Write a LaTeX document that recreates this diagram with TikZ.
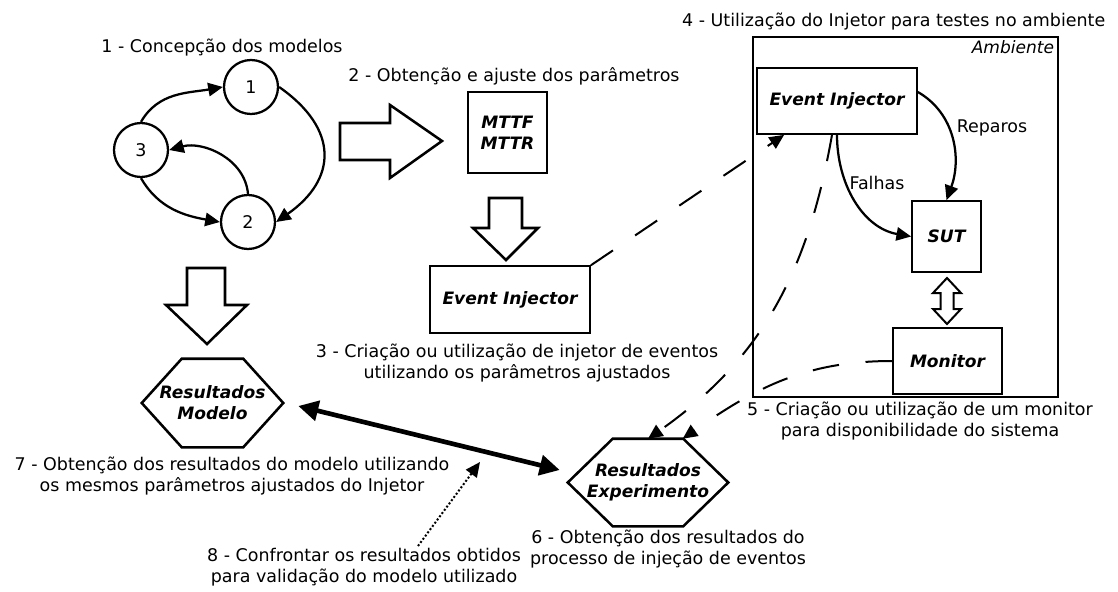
\documentclass[tikz,border=0pt]{standalone}
\usepackage{fontspec}
\setmainfont{DejaVu Sans}
\usetikzlibrary{positioning}
\usetikzlibrary{calc}
\usetikzlibrary{arrows.meta}

\begin{document}
\begin{tikzpicture} [
    x=0.75pt, y=0.75pt,                       % one unit is one pixel of the sketch
    font=\fontsize{13.1}{16}\selectfont,      % captions
    ]
% -------------------------------------------------
\tikzset{
  base/.style={align=center, font=\fontsize{12.8}{15.75}\selectfont\bfseries\itshape},
  rect/.style={base, draw, rectangle, line width=1.3pt},
  state/.style={draw, circle, line width=1.7pt, minimum size=40.5pt, inner sep=0pt},
  hexa/.style={draw, line width=1.9pt, line join=miter},
  block/.style={draw, line width=1.9pt, line join=miter, fill=white},
  line/.style={draw, line width=1.7pt, -{Triangle[length=11pt,width=10pt]}},
  dashline/.style={line, line width=1.5pt, dash pattern=on 20pt off 20pt},
  note/.style={align=center}
}

    \useasboundingbox (0,0) rectangle (1118,-592);

    % models
    \node [state] (m1) at (251,-87) {1};
    \node [state] (m3) at (141,-150) {3};
    \node [state] (m2) at (248,-222) {2};
    \node (cpt) at (222,-48) {1 - Concepção dos modelos};

    % parameters and injector
    \node [rect, minimum width=59pt, minimum height=61pt] (mttf) at (507.5,-132.5) {MTTF\\MTTR};
    \node (obt) at (514,-76) {2 - Obtenção e ajuste dos parâmetros};
    \node [rect, minimum width=120pt, minimum height=50pt] (inj) at (510,-299.5) {Event Injector};
    \node [note] (cri) at (517,-363) {3 - Criação ou utilização de injetor de eventos\\utilizando os parâmetros ajustados};

    % environment
    \node [draw, line width=1.3pt, minimum width=228.75pt, minimum height=270pt] (amb) at (905.5,-217) {};
    \node [anchor=north east, font=\fontsize{12.8}{15.75}\selectfont\itshape] (amt) at (amb.north east) {Ambiente};
    \node [anchor=east] (uti) at (1110,-22) {4 - Utilização do Injetor para testes no ambiente};
    \node [rect, minimum width=120pt, minimum height=49.5pt] (evi) at (837,-101) {Event Injector};
    \node [rect, minimum width=51.75pt, minimum height=53.25pt] (sut) at (946.5,-236.5) {SUT};
    \node [rect, minimum width=81.75pt, minimum height=49.5pt] (mon) at (947.5,-361) {Monitor};
    \node [note] (cmo) at (920,-421) {5 - Criação ou utilização de um monitor\\para disponibilidade do sistema};
    \node (flh) at (877,-183) {Falhas};
    \node (rep) at (992,-128) {Reparos};

    % results
    \node [base, minimum width=105.75pt, minimum height=66pt] (rmod) at (212.5,-403) {Resultados\\Modelo};
    \node [base, minimum width=120pt, minimum height=65.25pt] (rexp) at (648,-482.5) {Resultados\\Experimento};
    \node [note] (cres) at (668,-549) {6 - Obtenção dos resultados do\\processo de injeção de eventos};
    \node [note] (cmod) at (232,-476) {7 - Obtenção dos resultados do modelo utilizando\\os mesmos parâmetros ajustados do Injetor};
    \node [note] (cval) at (364,-567) {8 - Confrontar os resultados obtidos\\para validação do modelo utilizado};

    \draw [hexa] (rmod.west) -- ([xshift=30pt]rmod.north west) -- ([xshift=-30pt]rmod.north east)
        -- (rmod.east) -- ([xshift=-30pt]rmod.south east) -- ([xshift=30pt]rmod.south west) -- cycle;
    \draw [hexa] (rexp.west) -- ([xshift=33.75pt]rexp.north west) -- ([xshift=-33.75pt]rexp.north east)
        -- (rexp.east) -- ([xshift=-33.75pt]rexp.south east) -- ([xshift=33.75pt]rexp.south west) -- cycle;

    % block arrows
    \draw [block] (340,-123) -- (390,-123) -- (390,-105) -- (442,-141)
        -- (390,-178) -- (390,-160) -- (340,-160) -- cycle;                 % models to parameters
    \draw [block] (489,-198) -- (522,-198) -- (522,-228) -- (538,-228)
        -- (506,-260) -- (473,-228) -- (489,-228) -- cycle;                 % parameters to injector
    \draw [block] (187,-268) -- (225,-268) -- (225,-305) -- (247,-305)
        -- (207,-344) -- (166,-305) -- (187,-305) -- cycle;                 % models to results
    \draw [block, line width=1.5pt] (947,-278) -- (961,-293) -- (953.5,-293) -- (953.5,-309)
        -- (961,-309) -- (947,-324) -- (933,-309) -- (940.5,-309)
        -- (940.5,-293) -- (933,-293) -- cycle;                             % SUT and monitor

    % model transitions
    \path [line] (m3.north) to[out=60,in=190] (m1.west);
    \path [line] (m1.east) to[out=-35,in=35,looseness=1.4] (m2.east);
    \path [line] (m2.north) to[out=95,in=15] (m3.east);
    \path [line] (m3.south) to[out=-60,in=170] (m2.west);

    % inside the environment
    \path [line] (evi.south) to[out=-90,in=170] (sut.west);
    \path [line] ([yshift=6.75pt]evi.east) to[out=-30,in=70] (sut.north);

    % dashed flows
    \path [dashline] (inj.north east) -- ([xshift=21pt]evi.south west);
    \path [dashline] ([xshift=-3.75pt]evi.south) to[out=-100,in=35] (rexp.north);
    \path [dashline] (mon.west) to[out=180,in=35] ([xshift=26pt]rexp.north);

    % comparison
    \draw [line width=3.5pt, {Triangle[length=15pt,width=15pt]}-{Triangle[length=15pt,width=15pt]}]
        ($(rmod.east)+(15,-3)$) -- ($(rexp.west)+(-8,12.5)$);
    \coordinate (cf0) at (418,-546);
    \coordinate (cf1) at (480,-462);
    \path [line, line width=1.5pt, dash pattern=on 1.5pt off 1.5pt] (cf0) -- (cf1);

\end{tikzpicture}
\end{document}
